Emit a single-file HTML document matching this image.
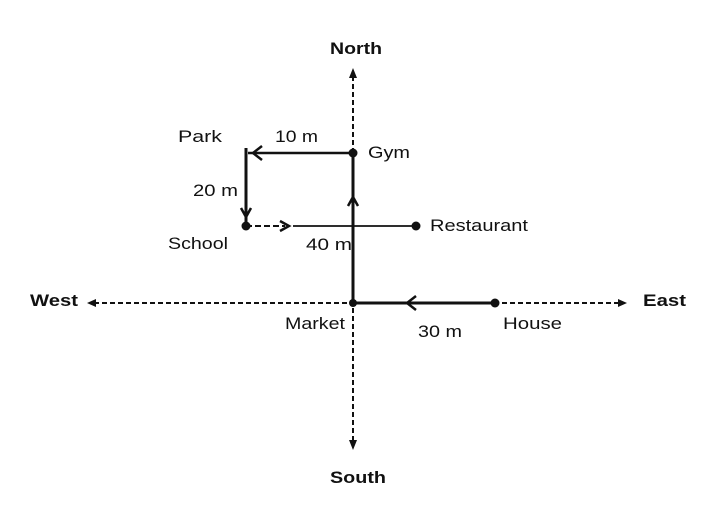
<!DOCTYPE html>
<html><head><style>
html,body{margin:0;padding:0;background:#fff;}
svg{display:block;}
text{font-family:"Liberation Sans",Arial,sans-serif;fill:#111;}
</style></head><body>
<svg width="709" height="513" viewBox="0 0 709 513" xmlns="http://www.w3.org/2000/svg">
<g stroke="#111" stroke-width="2" stroke-dasharray="5,3" fill="none">
<line x1="94" y1="303" x2="620" y2="303"/>
<line x1="353" y1="76" x2="353" y2="442"/>
</g>
<g fill="#111">
<polygon points="87,303 96,299 96,307"/>
<polygon points="627,303 618,299 618,307"/>
<polygon points="353,68 349,78 357,78"/>
<polygon points="353,450 349,440 357,440"/>
</g>
<g stroke="#111" fill="none">
<line x1="353" y1="153" x2="353" y2="303" stroke-width="3"/>
<line x1="353" y1="303" x2="495" y2="303" stroke-width="3"/>
<line x1="353" y1="153" x2="248" y2="153" stroke-width="2.5"/>
<line x1="246" y1="148" x2="246" y2="224" stroke-width="3"/>
<line x1="246" y1="226" x2="285" y2="226" stroke-width="2" stroke-dasharray="6,3"/>
<line x1="293" y1="226" x2="416" y2="226" stroke-width="1.8"/>
<polyline points="262,146 253,153 262,160" stroke-width="2.5"/>
<polyline points="348,206 353,197 358,206" stroke-width="2.5"/>
<polyline points="241,208 246,217 251,208" stroke-width="2.5"/>
<polyline points="280,221 289,226 280,231" stroke-width="2.5"/>
<polyline points="416,296 407,303 416,310" stroke-width="2.5"/>
</g>
<g fill="#111">
<circle cx="353" cy="153" r="4.5"/>
<circle cx="246" cy="226" r="4.5"/>
<circle cx="416" cy="226" r="4.5"/>
<circle cx="495" cy="303" r="4.5"/>
<circle cx="353" cy="303" r="4"/>
</g>
<g font-size="17" font-weight="bold" lengthAdjust="spacingAndGlyphs">
<text x="330" y="54" textLength="52" lengthAdjust="spacingAndGlyphs">North</text>
<text x="330" y="483" textLength="56" lengthAdjust="spacingAndGlyphs">South</text>
<text x="30" y="306" textLength="48" lengthAdjust="spacingAndGlyphs">West</text>
<text x="643" y="306" textLength="43" lengthAdjust="spacingAndGlyphs">East</text>
</g>
<g font-size="17">
<text x="178" y="142" textLength="44" lengthAdjust="spacingAndGlyphs">Park</text>
<text x="275" y="142" textLength="43" lengthAdjust="spacingAndGlyphs">10 m</text>
<text x="368" y="158" textLength="42" lengthAdjust="spacingAndGlyphs">Gym</text>
<text x="193" y="196" textLength="45" lengthAdjust="spacingAndGlyphs">20 m</text>
<text x="430" y="231" textLength="98" lengthAdjust="spacingAndGlyphs">Restaurant</text>
<text x="168" y="249" textLength="60" lengthAdjust="spacingAndGlyphs">School</text>
<text x="306" y="250" textLength="46" lengthAdjust="spacingAndGlyphs">40 m</text>
<text x="285" y="329" textLength="60" lengthAdjust="spacingAndGlyphs">Market</text>
<text x="418" y="337" textLength="44" lengthAdjust="spacingAndGlyphs">30 m</text>
<text x="503" y="329" textLength="59" lengthAdjust="spacingAndGlyphs">House</text>
</g>
</svg>
</body></html>
